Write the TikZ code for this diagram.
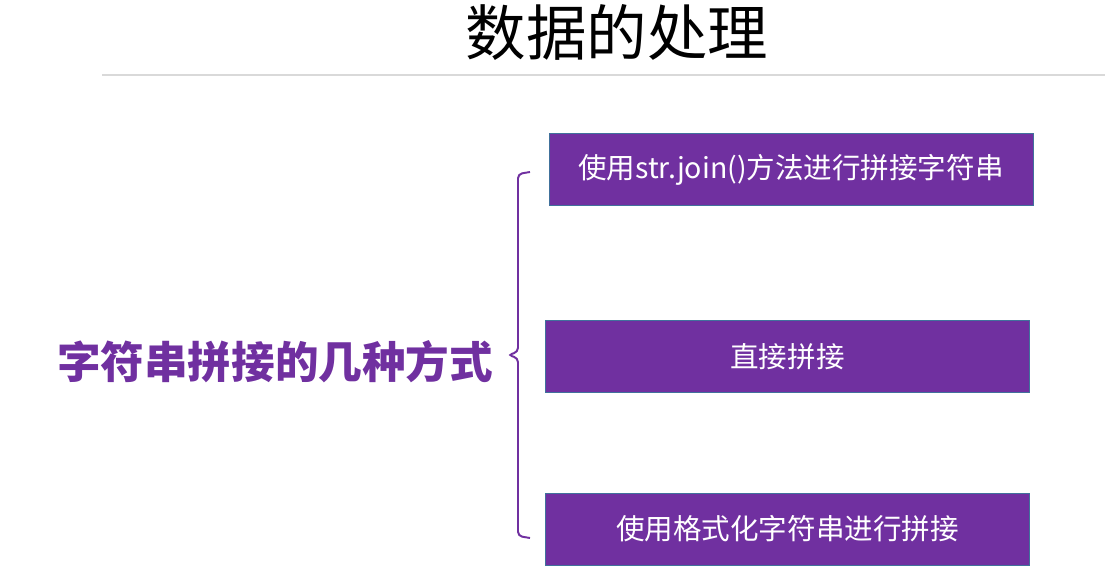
\documentclass[tikz,border=0pt]{standalone}
\usepackage{fontspec}
\setmainfont{Noto Sans CJK SC}
\usetikzlibrary{positioning}
\definecolor{boxpurple}{HTML}{7030A0}
\definecolor{boxedge}{HTML}{41719C}
\definecolor{rulegray}{HTML}{D9D9D9}
\tikzset{
	waybox/.style={draw=boxedge, line width=0.6pt, fill=boxpurple, text=white,
		minimum width=12.1cm, minimum height=1.8cm, inner sep=0pt,
		font=\fontsize{20.3}{24}\selectfont},
	brace/.style={draw=boxpurple, line width=1.4pt, rounded corners=3pt}
}
\begin{document}
\begin{tikzpicture}[x=0.025cm, y=-0.025cm]
		\useasboundingbox (0, 0) rectangle (1105, 570);
		\node (title) at (617, 32) {\fontsize{43}{48}\selectfont 数据的处理};
		\draw[rulegray, line width=1pt] (102, 75) -- (1105, 75);
		\node (join) [waybox] at (791, 169.5) {使用str.join()方法进行拼接字符串};
		\node (plus) [waybox] at (787.5, 356.5) {直接拼接};
		\node (fmt) [waybox] at (787.5, 529) {使用格式化字符串进行拼接};
		\node (ways) [text=boxpurple] at (275, 362) {\fontsize{31}{36}\selectfont\bfseries 字符串拼接的几种方式};
		\coordinate (tip) at (508, 355);
		\draw[brace] (530, 172) -- (518, 174) -- (518, 352) -- (tip)
			-- (518, 358) -- (518, 536) -- (530, 538);
	\end{tikzpicture}
\end{document}
